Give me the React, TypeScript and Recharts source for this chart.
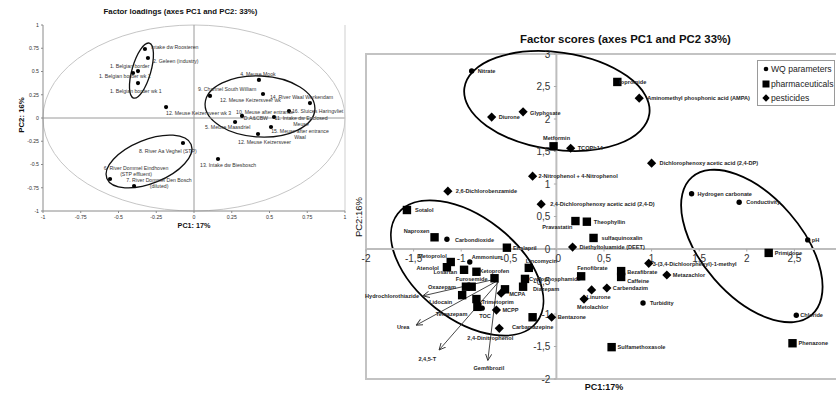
import React from 'react';
import { ScatterChart, Scatter, XAxis, YAxis, ReferenceLine, ReferenceArea, ReferenceDot, Legend } from 'recharts';

const FONT = '"Liberation Sans", Arial, Helvetica, sans-serif';

/* ---------------- Factor loadings (left chart) ---------------- */
const loadingNames = [
  'Intake dw Roosteren',
  '2. Geleen (industry)',
  '1. Belgian border',
  '1. Belgian border wk 1',
  '1. Belgian border wk 1',
  '12. Meuse Keizersveer wk 3',
  '9. Channel South William',
  '4. Meuse Mook',
  '12. Meuse Keizersveer wk',
  '14. River Waal Werkendam',
  '16. Sluices Haringvliet',
  '10. Meuse after entrance',
  '11. Intake dw Enclosed\nMeuse',
  '5. Meuse Maasdriel',
  '15. Meuse after entrance\nWaal',
  '12. Meuse Keizersveer',
  '8. River Aa Veghel (STP)',
  '13. Intake dw Biesbosch',
  '6. River Dommel  Eindhoven\n(STP effluent)',
  '7. River Dommel Den Bosch\n(diluted)',
];
const loadingPC1 = [-0.325, -0.305, -0.371, -0.404, -0.371, -0.185, 0.106, 0.43, 0.457, 0.768, 0.629, 0.318, 0.53, 0.272, 0.51, 0.424, -0.073, 0.159, -0.556, -0.397];
const loadingPC2 = [0.742, 0.645, 0.505, 0.484, 0.376, 0.118, 0.237, 0.409, 0.258, 0.161, 0.075, 0.022, 0.011, -0.043, -0.097, -0.172, -0.269, -0.441, -0.656, -0.731];
const loadingTicks = [-1, -0.75, -0.5, -0.25, 0, 0.25, 0.5, 0.75, 1];
const loadingTickLabels = ['-1', '-0.75', '-0.5', '-0.25', '0', '0.25', '0.5', '0.75', '1'];
const loadingNote = 'D.A&CBW';

/* ---------------- Factor scores (right chart) ---------------- */
const seriesNames = ['WQ parameters', 'pharmaceuticals', 'pesticides'];

const wqNames = ['Nitrate', 'Carbondioxide', 'Ammonium', 'TOC', 'Hydrogen carbonate', 'Conductivity', 'pH', 'Turbidity', 'Chloride'];
const wqPC1 = [-0.89, -1.15, -0.91, -0.78, 1.42, 1.92, 2.64, 0.91, 2.52];
const wqPC2 = [2.74, 0.15, -0.2, -0.91, 0.85, 0.72, 0.14, -0.83, -1.02];

const pharmaNames = ['Iopromide', 'Metformin', 'Sotalol', 'Naproxen', 'Enalapril', 'Pravastatin', 'Theophyllin', 'sulfaquinoxalin',
  'Metoprolol', 'Atenolol', 'Losartan', 'Ketoprofen', 'Furosemide', 'Oxazepam', '', 'Lidocain', 'Trimetoprim', 'Temazepam', '',
  'Lincomycin', 'Cyclophosphamide', 'Diazepam', 'Carbamazepine', 'Fenofibrate', 'Bezafibrate', 'Caffeine', 'Sulfamethoxasole',
  'Primidone', 'Phenazone'];
const pharmaPC1 = [0.64, -0.03, -1.57, -1.28, -0.52, 0.2, 0.32, 0.39, -1.11, -1.15, -0.97, -0.84, -0.65, -0.95, -0.89, -0.99, -0.84, -0.83, -0.54,
  -0.29, -0.33, -0.35, -0.25, 0.26, 0.68, 0.68, 0.58, 2.23, 2.48];
const pharmaPC2 = [2.57, 1.58, 0.6, 0.18, 0.02, 0.43, 0.42, 0.17, -0.2, -0.28, -0.32, -0.35, -0.45, -0.58, -0.58, -0.71, -0.77, -0.89, -0.62,
  -0.29, -0.46, -0.58, -1.05, -0.42, -0.34, -0.43, -1.51, -0.06, -1.45];

const pestNames = ['Diurone', 'Glyphosate', 'TCOPh14', 'Aminomethyl phosphonic acid (AMPA)', 'Dichlorophenoxy acetic acid  (2,4-DP)',
  '2-Nitrophenol + 4-Nitrophenol', '2,6-Dichlorobenzamide', '2,4-Dichlorophenoxy acetic acid (2,4-D)', 'Diethyltoluamide (DEET)',
  '3-(3,4-Dichloorphenyl)-1-methyl', 'Metazachlor', 'Carbendazim', 'Linurone', 'Metolachlor', 'Bentazone', 'MCPA', 'MCPP', '2,4-Dinitrophenol'];
const pestPC1 = [-0.68, -0.35, 0.15, 0.87, 1.0, -0.25, -1.14, -0.16, 0.17, 0.97, 1.16, 0.53, 0.37, 0.29, -0.05, -0.58, -0.63, -0.6];
const pestPC2 = [2.03, 2.11, 1.55, 2.32, 1.32, 1.12, 0.89, 0.69, 0.03, -0.22, -0.4, -0.6, -0.63, -0.77, -1.05, -0.68, -0.94, -1.22];

// items shown only by an arrow pointing from the cluster
const arrowNames = ['Hydrochlorothiazide', 'Urea', '2,4,5-T', 'Gemfibrozil'];
const arrowFromPC1 = [-0.63, -0.62, -0.61, -0.62];
const arrowFromPC2 = [-0.46, -0.49, -0.51, -0.5];
const arrowToPC1 = [-1.4, -1.47, -1.23, -0.72];
const arrowToPC2 = [-0.72, -1.17, -1.55, -1.71];

const scoreXTicks = [-2, -1.5, -1, -0.5, 0, 0.5, 1, 1.5, 2, 2.5];
const scoreXTickLabels = ['-2', '-1,5', '-1', '-0,5', '0', '0,5', '1', '1,5', '2', '2,5'];
const scoreYTicks = [-2, -1.5, -1, -0.5, 0, 0.5, 1, 1.5, 2, 2.5, 3];
const scoreYTickLabels = ['-2', '-1,5', '-1', '-0,5', '0', '0,5', '1', '1,5', '2', '2,5', '3'];

/* ---------------- layout / style (not data) ---------------- */
type Anchor = 'start' | 'middle' | 'end';
type Place = [number, number, Anchor];

const loadingLabelPos: Place[] = [
  [6, -2, 'start'], [5, 3, 'start'], [-28, -5, 'start'], [-34, 3, 'start'], [-28, 8, 'start'], [0, 6, 'start'],
  [-12, -7, 'start'], [-1, -6, 'middle'], [-43, 6, 'start'], [-40, -6, 'start'], [3, 0, 'start'], [-6, -4, 'start'],
  [27, 1, 'middle'], [-30, 5, 'start'], [29, 4, 'middle'], [-20, 8, 'start'], [-44, 8, 'start'], [-18, 6, 'start'],
  [26, -11, 'middle'], [25, -6, 'middle'],
];

const wqLabelPos: Place[] = [
  [6, 0, 'start'], [8, 1, 'start'], [2, -5, 'start'], [-3, 8, 'start'], [6, 0, 'start'], [7, 0, 'start'], [4, 0, 'start'],
  [7, 0, 'start'], [4, 0, 'start'],
];
const pharmaLabelPos: Place[] = [
  [2, 0, 'start'], [3, -8, 'middle'], [8, 0, 'start'], [-5, -6, 'end'], [6, 0, 'start'], [-3, 6, 'end'], [7, 0, 'start'],
  [8, 0, 'start'], [-4, -6, 'end'], [-8, 1, 'end'], [-7, 2, 'end'], [3, -1, 'start'], [-7, 1, 'end'], [-10, 0, 'end'],
  [0, 0, 'start'], [-10, 7, 'end'], [5, 3, 'start'], [-10, 7, 'end'], [0, 0, 'start'], [-3, -7, 'start'], [4, 0, 'start'],
  [10, 2, 'start'], [0, 10, 'middle'], [-4, -8, 'start'], [6, 1, 'start'], [6, 4, 'start'], [6, 0, 'start'],
  [6, 0, 'start'], [6, 0, 'start'],
];
const pestLabelPos: Place[] = [
  [7, 0, 'start'], [7, 1, 'start'], [7, 0, 'start'], [8, 0, 'start'], [8, 0, 'start'], [6, 0, 'start'], [8, 0, 'start'],
  [9, 0, 'start'], [7, 0, 'start'], [4, 1, 'start'], [6, 0, 'start'], [6, 0, 'start'], [-5, 7, 'start'], [-7, 8, 'start'],
  [6, 0, 'start'], [8, 1, 'start'], [6, 0, 'start'], [-9, 10, 'middle'],
];
const arrowLabelPos: Place[] = [[-4, 0, 'end'], [-7, 2, 'end'], [-12, 9, 'middle'], [1, 8, 'middle']];

// ellipse annotations: centre, semi-axes (in axis units, before rotation) and rotation in degrees
const loadingEllipses = [
  { cx: -0.348, cy: 0.51, rx: 0.189, ry: 0.101, angle: -74 },
  { cx: 0.437, cy: 0.124, rx: 0.364, ry: 0.328, angle: 3 },
  { cx: -0.298, cy: -0.468, rx: 0.301, ry: 0.234, angle: -22 },
];
const scoreEllipses = [
  { cx: 0.005, cy: 2.277, rx: 0.981, ry: 0.749, angle: 8 },
  { cx: -0.937, cy: -0.292, rx: 0.926, ry: 0.785, angle: 38 },
  { cx: 2.053, cy: 0.046, rx: 0.958, ry: 0.769, angle: 49 },
];

/* ---------------- tables ---------------- */
const build = (names: string[], xs: number[], ys: number[]) =>
  names.map((name, i) => ({ name, pc1: xs[i], pc2: ys[i], i }));
const loadingData = build(loadingNames, loadingPC1, loadingPC2);
const wqData = build(wqNames, wqPC1, wqPC2);
const pharmaData = build(pharmaNames, pharmaPC1, pharmaPC2);
const pestData = build(pestNames, pestPC1, pestPC2);

/* ---------------- helpers ---------------- */
const MultiText = ({ x, y, text, anchor, size, weight, fill, lh }: any) => {
  const lines = String(text).split('\n');
  return (
    <text x={x} y={y + size * 0.35} textAnchor={anchor} fontSize={size} fontWeight={weight} fill={fill} fontFamily={FONT}>
      {lines.map((l, k) => (
        <tspan key={k} x={x} dy={k === 0 ? 0 : size * lh}>{l}</tspan>
      ))}
    </text>
  );
};

const ellipseShape = (angle: number, stroke: string, sw: number) => (p: any) => {
  const w = Math.abs(p.width);
  const h = Math.abs(p.height);
  const cx = p.x + p.width / 2;
  const cy = p.y + p.height / 2;
  return (
    <ellipse cx={cx} cy={cy} rx={w / 2} ry={h / 2} transform={`rotate(${angle} ${cx} ${cy})`}
      fill="none" stroke={stroke} strokeWidth={sw} />
  );
};

const loadingShape = (p: any) => {
  const { cx, cy, payload } = p;
  const pl = loadingLabelPos[payload.i];
  return (
    <g>
      <circle cx={cx} cy={cy} r={2.1} fill="#000" />
      <MultiText x={cx + pl[0]} y={cy + pl[1]} text={payload.name} anchor={pl[2]} size={5.2} weight="normal" fill="#333" lh={1.15} />
    </g>
  );
};

const scoreShape = (kind: string, places: Place[]) => (p: any) => {
  const { cx, cy, payload } = p;
  const pl = places[payload.i];
  let mark: any;
  if (kind === 'circle') mark = <circle cx={cx} cy={cy} r={2.7} fill="#000" />;
  else if (kind === 'square') mark = <rect x={cx - 4.2} y={cy - 4.2} width={8.4} height={8.4} fill="#000" />;
  else mark = <path d={`M${cx},${cy - 4.6} L${cx + 4.6},${cy} L${cx},${cy + 4.6} L${cx - 4.6},${cy} Z`} fill="#000" />;
  return (
    <g>
      {mark}
      {payload.name ? (
        <MultiText x={cx + pl[0]} y={cy + pl[1]} text={payload.name} anchor={pl[2]} size={5.6} weight="bold" fill="#262626" lh={1.15} />
      ) : null}
    </g>
  );
};

const LegendBox = () => (
  <div style={{ width: 76, height: 44, border: '1px solid #9a9a9a', background: '#fff', fontFamily: FONT, fontSize: 8.6, color: '#222', boxSizing: 'content-box' }}>
    {seriesNames.map((n, k) => (
      <div key={n} style={{ display: 'flex', alignItems: 'center', height: 14.5, marginTop: k === 0 ? 1 : 0, paddingLeft: 4 }}>
        <svg width={8} height={8} style={{ marginRight: 1 }}>
          {k === 0 && <circle cx={4} cy={4} r={2.3} fill="#000" />}
          {k === 1 && <rect x={0.5} y={0.5} width={7} height={7} fill="#000" />}
          {k === 2 && <path d="M4,0.3 L7.7,4 L4,7.7 L0.3,4 Z" fill="#000" />}
        </svg>
        <span>{n}</span>
      </div>
    ))}
  </div>
);

const txt = (extra: any) => ({ position: 'absolute' as const, fontFamily: FONT, color: '#111', whiteSpace: 'nowrap' as const, textAlign: 'center' as const, ...extra });

export default function App() {
  return (
    <div style={{ position: 'absolute', left: 0, top: 0, width: 836, height: 394, overflow: 'hidden', background: '#fff' }}>
      <svg width={0} height={0} style={{ position: 'absolute' }}>
        <defs>
          <marker id="arrowHead" viewBox="0 0 10 10" refX="9" refY="5" markerWidth="7" markerHeight="7" orient="auto" markerUnits="userSpaceOnUse">
            <path d="M0,0.5 L9.5,5 L0,9.5" fill="none" stroke="#333" strokeWidth="1.3" />
          </marker>
        </defs>
      </svg>

      {/* ---------- Left chart ---------- */}
      <div style={txt({ left: 0, top: 8, width: 361, fontSize: 7.8, fontWeight: 'bold', lineHeight: '8px' })}>
        Factor loadings (axes PC1 and PC2: 33%)
      </div>
      <div style={{ position: 'absolute', left: 0, top: 0 }}>
        <ScatterChart width={350} height={235} margin={{ top: 25, right: 5, bottom: 0, left: 0 }}>
          <XAxis type="number" dataKey="pc1" domain={[-1, 1]} ticks={loadingTicks} interval={0} height={24} tickSize={2}
            tickFormatter={(v: number) => loadingTickLabels[loadingTicks.indexOf(v)] ?? String(v)}
            tick={{ fontSize: 5.2, fill: '#333', fontFamily: FONT }} axisLine={{ stroke: '#8a8a8a' }} tickLine={{ stroke: '#8a8a8a' }} />
          <YAxis type="number" dataKey="pc2" domain={[-1, 1]} ticks={loadingTicks} interval={0} width={43} tickSize={2}
            tickFormatter={(v: number) => loadingTickLabels[loadingTicks.indexOf(v)] ?? String(v)}
            tick={{ fontSize: 5.2, fill: '#333', fontFamily: FONT }} axisLine={{ stroke: '#8a8a8a' }} tickLine={{ stroke: '#8a8a8a' }} />
          <ReferenceArea x1={-1} x2={1} y1={-1} y2={1} ifOverflow="visible" shape={ellipseShape(0, '#c6c6c6', 1)} />
          <ReferenceLine x={0} stroke="#9a9a9a" strokeWidth={1} />
          <ReferenceLine y={0} stroke="#9a9a9a" strokeWidth={1} />
          <ReferenceLine x={1} stroke="#cfcfcf" strokeWidth={1} />
          {loadingEllipses.map((e, k) => (
            <ReferenceArea key={'le' + k} x1={e.cx - e.rx} x2={e.cx + e.rx} y1={e.cy - e.ry} y2={e.cy + e.ry}
              ifOverflow="visible" shape={ellipseShape(e.angle, '#111', 1.3)} />
          ))}
          <Scatter data={loadingData} isAnimationActive={false} shape={loadingShape} />
          <ReferenceDot x={0.41} y={0} r={0} ifOverflow="visible"
            shape={(p: any) => <text x={p.cx} y={p.cy + 1.8} textAnchor="middle" fontSize={5.2} fill="#333" fontFamily={FONT}>{loadingNote}</text>} />
        </ScatterChart>
      </div>
      <div style={txt({ left: 144, top: 222, width: 100, fontSize: 7.2, fontWeight: 'bold', lineHeight: '8px' })}>PC1: 17%</div>
      <div style={txt({ left: -28, top: 111, width: 100, fontSize: 7.8, fontWeight: 'bold', lineHeight: '8px', transform: 'rotate(-90deg)' })}>PC2: 16%</div>

      {/* ---------- Right chart ---------- */}
      <div style={txt({ left: 425, top: 32, width: 401, fontSize: 11.4, fontWeight: 'bold', lineHeight: '14px' })}>
        Factor scores (axes PC1 and PC2 33%)
      </div>
      <div style={{ position: 'absolute', left: 340, top: 0 }}>
        <ScatterChart width={510} height={394} margin={{ top: 54, right: 8, bottom: 0, left: 0 }}>
          <XAxis type="number" dataKey="pc1" domain={[-2, 3]} ticks={scoreXTicks} height={15} tick={false} axisLine={false} tickLine={false} />
          <YAxis type="number" dataKey="pc2" domain={[-2, 3]} ticks={scoreYTicks} width={26} tick={false} axisLine={false} tickLine={false} />
          <ReferenceArea x1={-2} x2={3} y1={-2} y2={3} ifOverflow="visible" fill="none" fillOpacity={0} stroke="#c3c3c3" strokeWidth={2} />
          <ReferenceLine x={0} stroke="#bdbdbd" strokeWidth={2} />
          <ReferenceLine y={0} stroke="#bdbdbd" strokeWidth={2} />
          {scoreXTicks.map((t, k) => (
            <ReferenceDot key={'xt' + k} x={t} y={0} r={0} ifOverflow="visible"
              shape={(p: any) => (
                <g>
                  <line x1={p.cx} y1={p.cy} x2={p.cx} y2={p.cy + 2.5} stroke="#aaa" />
                  <text x={p.cx + (t === 0 ? 2 : 0)} y={p.cy + 12.5} textAnchor="middle" fontSize={10} fill="#333" fontFamily={FONT}>{scoreXTickLabels[k]}</text>
                </g>
              )} />
          ))}
          {scoreYTicks.map((t, k) => (
            <ReferenceDot key={'yt' + k} x={0} y={t} r={0} ifOverflow="visible"
              shape={(p: any) => (
                <g>
                  <line x1={p.cx - 2.5} y1={p.cy} x2={p.cx} y2={p.cy} stroke="#aaa" />
                  <text x={p.cx - 6} y={p.cy + 3.6} textAnchor="end" fontSize={10} fill="#333" fontFamily={FONT}>{scoreYTickLabels[k]}</text>
                </g>
              )} />
          ))}
          {scoreEllipses.map((e, k) => (
            <ReferenceArea key={'se' + k} x1={e.cx - e.rx} x2={e.cx + e.rx} y1={e.cy - e.ry} y2={e.cy + e.ry}
              ifOverflow="visible" shape={ellipseShape(e.angle, '#000', 1.8)} />
          ))}
          {arrowNames.map((n, k) => (
            <ReferenceLine key={'ar' + k} ifOverflow="visible"
              segment={[{ x: arrowFromPC1[k], y: arrowFromPC2[k] }, { x: arrowToPC1[k], y: arrowToPC2[k] }]}
              shape={(p: any) => {
                const pl = arrowLabelPos[k];
                return (
                  <g>
                    <line x1={p.x1} y1={p.y1} x2={p.x2} y2={p.y2} stroke="#333" strokeWidth={0.9} markerEnd="url(#arrowHead)" />
                    <MultiText x={p.x2 + pl[0]} y={p.y2 + pl[1]} text={n} anchor={pl[2]} size={5.6} weight="bold" fill="#262626" lh={1.15} />
                  </g>
                );
              }} />
          ))}
          <Scatter name={seriesNames[0]} data={wqData} isAnimationActive={false} shape={scoreShape('circle', wqLabelPos)} />
          <Scatter name={seriesNames[1]} data={pharmaData} isAnimationActive={false} shape={scoreShape('square', pharmaLabelPos)} />
          <Scatter name={seriesNames[2]} data={pestData} isAnimationActive={false} shape={scoreShape('diamond', pestLabelPos)} />
          <Legend layout="vertical" align="center" verticalAlign="middle"
            wrapperStyle={{ left: 417, top: 60, width: 78, height: 46, right: 'auto', bottom: 'auto' }}
            content={() => <LegendBox />} />
        </ScatterChart>
      </div>
      <div style={txt({ left: 554, top: 382, width: 100, fontSize: 9, fontWeight: 'bold', lineHeight: '10px' })}>PC1:17%</div>
      <div style={txt({ left: 309, top: 212, width: 100, fontSize: 9.5, lineHeight: '10px', transform: 'rotate(-90deg)' })}>PC2:16%</div>
    </div>
  );
}
